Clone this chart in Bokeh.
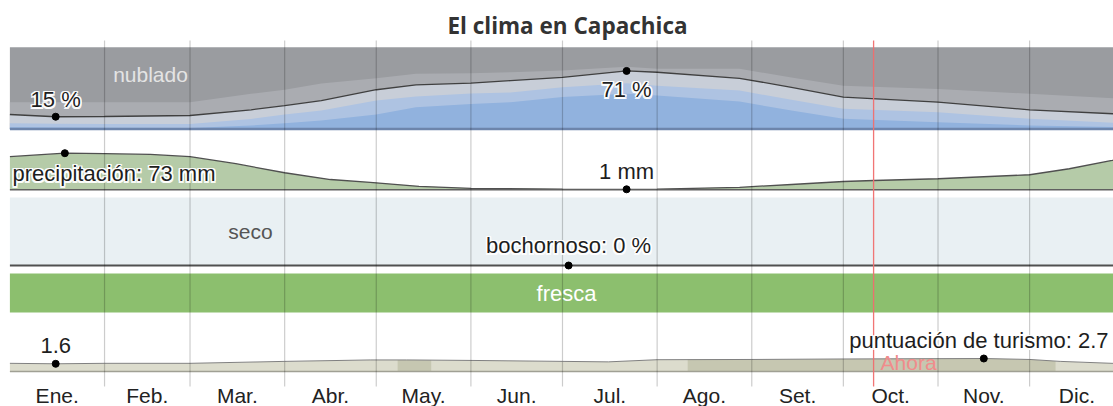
from bokeh.plotting import figure
from bokeh.models import Range1d
from bokeh.core.properties import value
from bokeh.embed import file_html
from bokeh.resources import INLINE

# ---------------- data ----------------
title = "El clima en Capachica"
month_labels = ["Ene.", "Feb.", "Mar.", "Abr.", "May.", "Jun.", "Jul.", "Ago.", "Set.", "Oct.", "Nov.", "Dic."]
month_starts = [0, 31, 59, 90, 120, 151, 181, 212, 243, 273, 304, 334, 365]

# cloud cover: cumulative % of time (from bottom)
cloud_days = [0, 15, 31, 59, 79, 90, 102, 120, 133, 151, 164, 181, 202, 212, 239, 256, 273, 304, 334, 365]
cloud_clear = [2.2, 1.8, 1.6, 1.2, 4.3, 7, 10.4, 17.7, 26.5, 30.7, 32.7, 39, 43, 41, 33.6, 22.6, 12.4, 8.3, 4.3, 2.2]
cloud_mostly_clear = [7, 6.5, 6.1, 6, 12.3, 17.7, 22.6, 34.8, 39.7, 43.4, 44.6, 51, 56, 53, 47, 35.7, 24.7, 20.6, 12.4, 7]
cloud_partly = [17.7, 15, 15.3, 16.5, 23.5, 28.7, 34.8, 48, 54, 56, 59.2, 63, 71, 69.4, 62, 51, 39, 32.8, 23.5, 18]
cloud_mostly_cloudy = [32.8, 32.8, 32.8, 32.8, 43, 48, 55.6, 62, 67.5, 68.2, 69.4, 71.5, 76, 73.6, 73.6, 63, 53, 49, 43, 37]
cloud_label = "nublado"

# precipitation (mm)
precip_days = [0, 18, 31, 46, 59, 74, 90, 105, 118, 134, 151, 181, 202, 212, 239, 256, 273, 283, 304, 334, 347, 361, 365]
precip_mm = [66, 73, 72, 70.5, 66, 52, 34, 20.5, 15, 7, 3, 1.5, 1, 1.5, 5, 10.6, 16.6, 18.5, 22, 30, 42, 58.5, 64]

# muggy (% of time)
muggy_days = [0, 183, 365]
muggy_pct = [0, 0, 0]
humidity_label = "seco"

# temperature band
temp_band_labels = ["fresca"]
temp_band_start = [0]
temp_band_end = [365]

# tourism score
tourism_days = [0, 15, 31, 59, 90, 118, 130, 151, 181, 196, 212, 243, 273, 319, 334, 344, 361, 365]
tourism_score = [1.7, 1.6, 1.7, 1.7, 2.1, 2.4, 2.4, 2.3, 2.1, 2.0, 2.45, 2.5, 2.6, 2.7, 2.5, 2.1, 1.7, 1.7]
best_start = [127, 222]
best_end = [138, 342.5]

now_day = 282.9
now_label = "Ahora"

# ---------------- layout ----------------
W, H = 1113, 406
PX_PER_DAY = 3.053
DAY0_PX = 9.4            # canvas x of day 0
x0 = -DAY0_PX / PX_PER_DAY
x1 = (W - DAY0_PX) / PX_PER_DAY
Y_BOTTOM, Y_TOP = H, 0


def px_to_day(px):
    return (px - DAY0_PX) / PX_PER_DAY


def panel_range(va, ya, vb, yb):
    k = (yb - ya) / (vb - va)
    return Range1d(start=va + (Y_BOTTOM - ya) / k, end=va + (Y_TOP - ya) / k)


FONT = value("Liberation Sans")
TFONT = value("Open Sans")

p = figure(width=W, height=H, x_range=Range1d(x0, x1), y_range=Range1d(Y_BOTTOM, Y_TOP),
           output_backend="svg", toolbar_location=None, x_axis_type=None, y_axis_type=None,
           min_border=0, outline_line_color=None, background_fill_color="white")
p.extra_y_ranges = {
    "cloud": panel_range(0, 128.5, 100, 46.7),
    "precip": panel_range(0, 189.3, 73, 152.7),
    "hum": panel_range(0, 265, 100, 197),
    "tour": panel_range(0, 371, 2.7, 358),
}

# ---- cloud panel ----
p.quad(left=[0], right=[365], bottom=[0], top=[100], fill_color="#9a9ca0", line_color=None, y_range_name="cloud")
p.varea(x=cloud_days, y1=0, y2=cloud_mostly_cloudy, fill_color="#aaacb1", y_range_name="cloud")
p.varea(x=cloud_days, y1=0, y2=cloud_partly, fill_color="#c8ced8", y_range_name="cloud")
p.varea(x=cloud_days, y1=0, y2=cloud_mostly_clear, fill_color="#aec3e2", y_range_name="cloud")
p.varea(x=cloud_days, y1=0, y2=cloud_clear, fill_color="#91b2de", y_range_name="cloud")
p.line(x=cloud_days, y=cloud_partly, line_color="#404040", line_width=1.3, y_range_name="cloud")
p.line(x=[0, 365], y=[0, 0], line_color="#6d85ac", line_width=2.5, y_range_name="cloud")

# ---- precipitation panel ----
p.varea(x=precip_days, y1=0, y2=precip_mm, fill_color="#b5cba8", y_range_name="precip")
p.line(x=precip_days, y=precip_mm, line_color="#505050", line_width=1.3, y_range_name="precip")
p.line(x=[0, 365], y=[0, 0], line_color="#606060", line_width=1.5, y_range_name="precip")

# ---- humidity panel ----
p.quad(left=[0], right=[365], bottom=[0], top=[100], fill_color="#e9f0f3", line_color=None, y_range_name="hum")
p.line(x=muggy_days, y=muggy_pct, line_color="#505050", line_width=2, y_range_name="hum")

# ---- temperature band ----
p.quad(left=temp_band_start, right=temp_band_end, bottom=312, top=273, fill_color="#8cbf6e", line_color=None)

# ---- tourism panel ----
p.varea(x=tourism_days, y1=0, y2=tourism_score, fill_color="#dcdccd", y_range_name="tour")
p.quad(left=best_start, right=best_end, bottom=0, top=3.0, fill_color="#c6c7b1", line_color=None, y_range_name="tour")
p.varea(x=tourism_days, y1=tourism_score, y2=3.2, fill_color="white", y_range_name="tour")
p.line(x=tourism_days, y=tourism_score, line_color="#808080", line_width=1, y_range_name="tour")
p.line(x=[0, 365], y=[0, 0], line_color="#a0a094", line_width=1.5, y_range_name="tour")

# ---- grid lines + now line ----
p.segment(x0=month_starts[1:-1], y0=40, x1=month_starts[1:-1], y1=386, line_color="black", line_alpha=0.2, line_width=1.2)
p.segment(x0=[now_day], y0=40, x1=[now_day], y1=386, line_color="#f06e6e", line_alpha=0.95, line_width=1.3)

# ---- texts ----
HALO = [(-1.5, -1.5), (-1.5, 0), (-1.5, 1.5), (0, -1.5), (0, 1.5), (1.5, -1.5), (1.5, 0), (1.5, 1.5)]


def halo_text(x, y, txt, align="center", size="22px", color="#1e1e1e"):
    for dx, dy in HALO:
        p.text(x=[x], y=[y], text=[txt], text_color="white", text_alpha=0.9, x_offset=dx, y_offset=dy,
               text_align=align, text_baseline="middle", text_font=FONT, text_font_size=size)
    p.text(x=[x], y=[y], text=[txt], text_color=color, text_align=align, text_baseline="middle",
           text_font=FONT, text_font_size=size)


def plain_text(x, y, txt, color, align="center", size="22px", font=FONT, style="normal"):
    p.text(x=[x], y=[y], text=[txt], text_color=color, text_align=align, text_baseline="middle",
           text_font=font, text_font_size=size, text_font_style=style)


def argext(vals, fn):
    return vals.index(fn(vals))


# title
plain_text(px_to_day(567), 25, title, "#333333", size="22.5px", font=TFONT, style="bold")

# cloud
plain_text(px_to_day(150), 74, cloud_label, "#e4e4e4", size="21px")
i = argext(cloud_partly, min)
p.scatter(x=[cloud_days[i]], y=[cloud_partly[i]], size=7, color="black", y_range_name="cloud")
halo_text(cloud_days[i], 99, f"{cloud_partly[i]:.0f} %")
i = argext(cloud_partly, max)
p.scatter(x=[cloud_days[i]], y=[cloud_partly[i]], size=7, color="black", y_range_name="cloud")
halo_text(cloud_days[i], 89, f"{cloud_partly[i]:.0f} %")

# precipitation
i = argext(precip_mm, max)
p.scatter(x=[precip_days[i]], y=[precip_mm[i]], size=7, color="black", y_range_name="precip")
halo_text(px_to_day(12), 173, f"precipitación: {precip_mm[i]:.0f} mm", align="left")
i = argext(precip_mm, min)
p.scatter(x=[precip_days[i]], y=[precip_mm[i]], size=7, color="black", y_range_name="precip")
halo_text(precip_days[i], 171, f"{precip_mm[i]:.0f} mm")

# humidity
plain_text(px_to_day(250), 231, humidity_label, "#555555", size="21px")
p.scatter(x=[muggy_days[1]], y=[muggy_pct[1]], size=7, color="black", y_range_name="hum")
halo_text(muggy_days[1], 245, f"bochornoso: {muggy_pct[1]:.0f} %")

# temperature
for lab, s, e in zip(temp_band_labels, temp_band_start, temp_band_end):
    plain_text(px_to_day(566), 293, lab, "white")

# tourism
i = argext(tourism_score, min)
p.scatter(x=[tourism_days[i]], y=[tourism_score[i]], size=7, color="black", y_range_name="tour")
halo_text(tourism_days[i], 345, f"{tourism_score[i]:.1f}")
i = argext(tourism_score, max)
p.scatter(x=[tourism_days[i]], y=[tourism_score[i]], size=7, color="black", y_range_name="tour")
halo_text(px_to_day(1108), 340, f"puntuación de turismo: {tourism_score[i]:.1f}", align="right")

# now label
plain_text(now_day + 2.3, 362, now_label, "#f08c8c", align="left", size="21px")

# month labels
mids = [(a + b) / 2 for a, b in zip(month_starts[:-1], month_starts[1:])]
p.text(x=mids, y=[395] * 12, text=month_labels, text_color="#222222", text_align="center",
       text_baseline="middle", text_font=FONT, text_font_size="21px")

open("out.html", "w").write(file_html(p, INLINE))
